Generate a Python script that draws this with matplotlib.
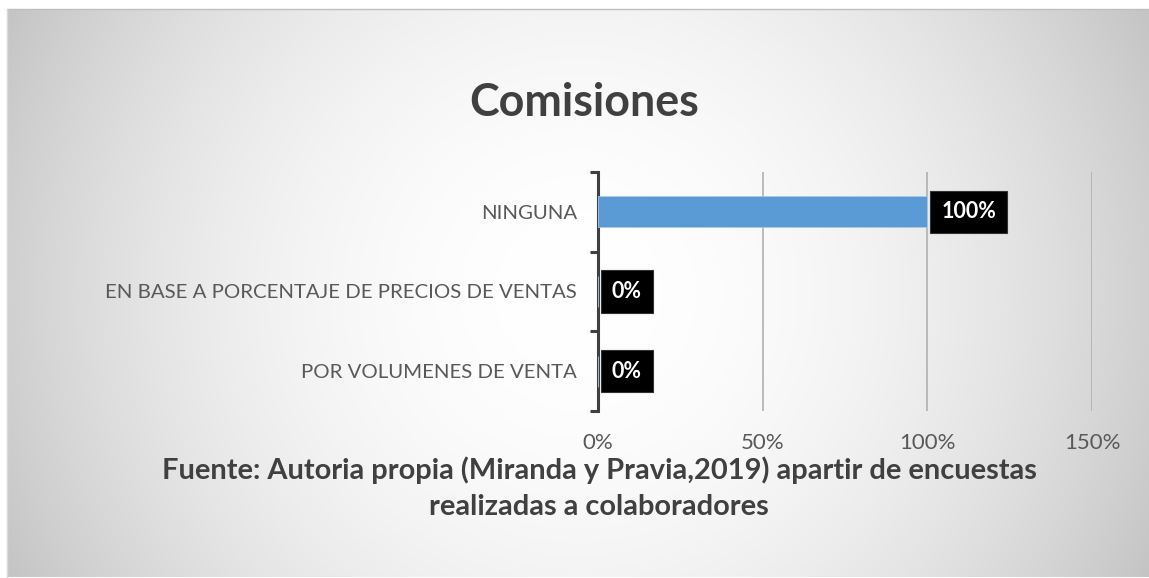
import numpy as np
import matplotlib
matplotlib.use("Agg")
import matplotlib.pyplot as plt

categories = ["POR VOLUMENES DE VENTA",
              "EN BASE A PORCENTAJE DE PRECIOS DE VENTAS",
              "NINGUNA"]
values = [0.0, 0.0, 1.0]
xticks = [0, 0.5, 1.0, 1.5]
xtick_labels = ["0%", "50%", "100%", "150%"]
title = "Comisiones"
footnote = "Fuente: Autoria propia (Miranda y Pravia,2019) apartir de encuestas\nrealizadas a colaboradores"

W, H = 1149, 578
fig = plt.figure(figsize=(W / 100, H / 100), dpi=100)
fig.patch.set_facecolor("white")

# chart area with radial gradient
fx0, fy0, fx1, fy1 = 7, 9, 1149, 577  # pixel frame (top-left origin)
bg = fig.add_axes([fx0 / W, (H - fy1) / H, (fx1 - fx0) / W, (fy1 - fy0) / H], zorder=-5)
bw, bh = fx1 - fx0, fy1 - fy0
yy, xx = np.mgrid[0:bh, 0:bw]
cx, cy = 578 - fx0, 293 - fy0
r = np.sqrt((xx - cx) ** 2 + (yy - cy) ** 2) / np.sqrt(cx ** 2 + cy ** 2)
g = np.clip(255 - 59 * r ** 2, 0, 255) / 255.0
bg.imshow(np.dstack([g, g, g]), aspect="auto", extent=[0, 1, 0, 1], interpolation="bilinear")
bg.set_axis_off()
bg.plot([0, 1], [1, 1], color="#bfbfbf", lw=1, transform=bg.transAxes, clip_on=False)
bg.plot([0, 0], [0, 1], color="#d9d9d9", lw=1, transform=bg.transAxes, clip_on=False)

font = "Lato"
text_color = "#595959"

# plot axes: x 598..1092 px, y 172..411 px
ax = fig.add_axes([598 / W, (H - 411) / H, (1092 - 598) / W, (411 - 172) / H])
ax.set_facecolor("none")
ypos = np.arange(len(categories))
ax.barh(ypos, values, height=0.39, color="#5b9bd5", edgecolor="#a9c9ea", linewidth=0.6, zorder=3)
ax.set_xlim(0, 1.5)
ax.set_ylim(-0.5, len(categories) - 0.5)
ax.set_xticks(xticks)
ax.set_xticklabels(xtick_labels, fontfamily=font, fontsize=16, color=text_color)
ax.tick_params(axis="x", length=0, pad=16)
ax.set_yticks(ypos)
ax.set_yticklabels(categories, fontfamily=font, fontsize=14.7, color=text_color)
ax.tick_params(axis="y", which="major", length=0, pad=15)
ax.set_yticks(np.arange(-0.5, len(categories), 1.0), minor=True)
ax.tick_params(axis="y", which="minor", length=6, width=2.2, color="#404040", direction="out")
ax.xaxis.grid(True, color="#b0b0b0", lw=1.2, zorder=0)
for s in ["top", "right", "bottom"]:
    ax.spines[s].set_visible(False)
ax.spines["left"].set_color("#404040")
ax.spines["left"].set_linewidth(2.2)

for y, v in zip(ypos, values):
    ax.annotate(f"{v * 100:.0f}%", xy=(v, y), xytext=(10, 0), textcoords="offset points",
                ha="left", va="center", color="white", fontweight="bold",
                fontfamily=font, fontsize=15.5,
                bbox=dict(boxstyle="square,pad=0.5", fc="black", ec="#333333", lw=0.8),
                zorder=5)

fig.text(584 / W, 1 - 103 / H, title, ha="center", va="center", fontfamily=font,
         fontweight="bold", fontsize=32.3, color="#404040")
fig.text(599 / W, 1 - 488 / H, footnote, ha="center", va="center", fontfamily=font,
         fontweight="bold", fontsize=20.9, color="#404040", linespacing=1.5)

fig.savefig("out.png", dpi=100, facecolor=fig.get_facecolor())
